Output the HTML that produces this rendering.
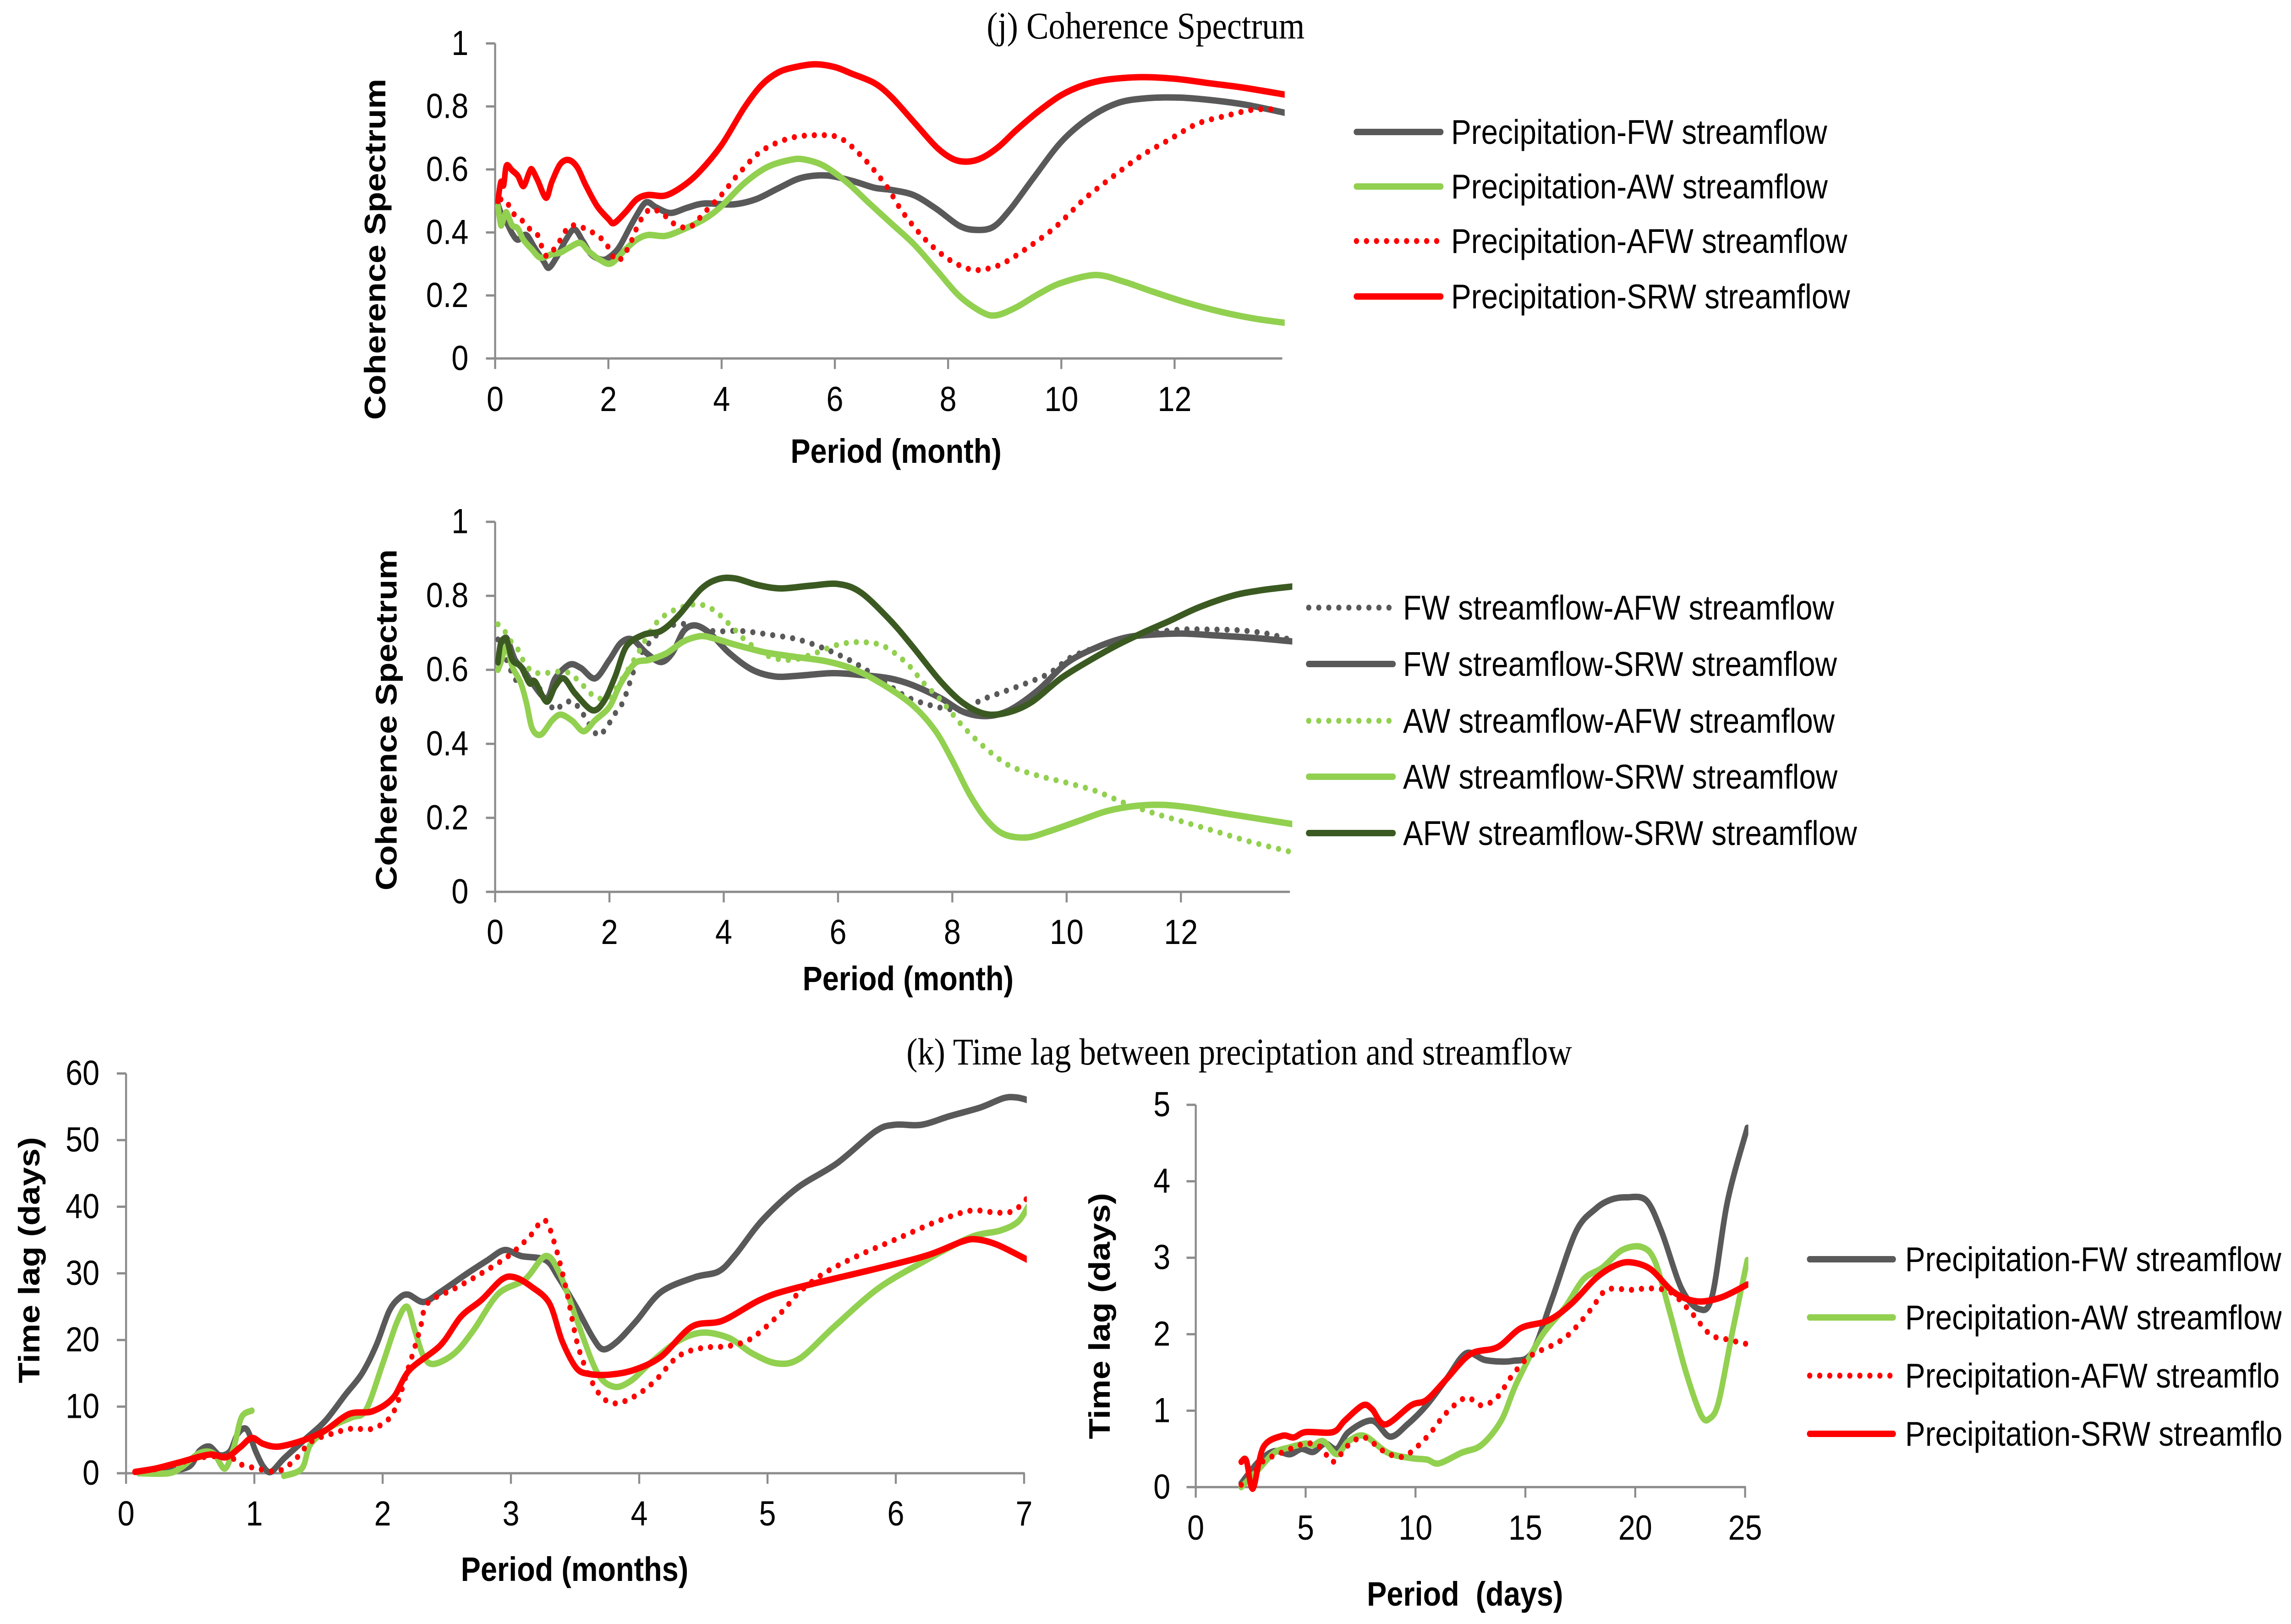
<!DOCTYPE html>
<html lang="en">
<head>
<meta charset="utf-8">
<title>Coherence Spectrum and Time Lag</title>
<style>
html,body{margin:0;padding:0;background:#fff;width:100%;height:100%;overflow:hidden;}
svg#figure{display:block;width:100vw;height:100vh;}
.tick{font-family:"Liberation Sans",sans-serif;font-size:76px;fill:#000;}
.axt{font-family:"Liberation Sans",sans-serif;font-size:74px;font-weight:bold;fill:#000;}
.leg{font-family:"Liberation Sans",sans-serif;font-size:75px;fill:#000;}
.legk{width:938px;height:100px;line-height:100px;overflow:hidden;white-space:nowrap;font-family:"Liberation Sans",sans-serif;font-size:75px;color:#000;}
.ttl{font-family:"Liberation Serif",serif;font-size:83px;fill:#000;}
.s{fill:none;stroke-width:14;stroke-linecap:round;stroke-linejoin:round;}
.d{fill:none;stroke-width:13;stroke-linecap:round;stroke-linejoin:round;stroke-dasharray:0 25;}
</style>
</head>
<body>
<svg id="figure" xmlns="http://www.w3.org/2000/svg" viewBox="0 0 5712 3544" preserveAspectRatio="none">
<defs>
<clipPath id="clip-j"><rect x="1200" y="0" width="2003" height="1000"/></clipPath>
<clipPath id="clip-j2"><rect x="1200" y="1100" width="2022" height="1000"/></clipPath>
<clipPath id="clip-k1"><rect x="280" y="2300" width="2280" height="1000"/></clipPath>
<clipPath id="clip-k2"><rect x="2950" y="2300" width="1409" height="1000"/></clipPath>
</defs>
<rect x="0" y="0" width="5712" height="3544" fill="#fff"/>

<text class="ttl" x="2460" y="84">(j) Coherence Spectrum</text>
<text class="ttl" x="2260" y="2323">(k) Time lag between preciptation and streamflow</text>

<text class="axt" x="1971" y="1010">Period (month)</text>
<text class="axt" x="2001" y="2161">Period (month)</text>
<text class="axt" x="1149" y="3450">Period (months)</text>
<text class="axt" x="3408" y="3504" xml:space="preserve">Period  (days)</text>

<text class="axt" text-anchor="middle" transform="translate(961 544) rotate(-90)">Coherence Spectrum</text>
<text class="axt" text-anchor="middle" transform="translate(989 1571) rotate(-90)">Coherence Spectrum</text>
<text class="axt" text-anchor="middle" transform="translate(98 2750) rotate(-90)">Time lag (days)</text>
<text class="axt" text-anchor="middle" transform="translate(2767 2872) rotate(-90)">Time lag (days)</text>

<g id="panel-j-top"></g>
<g id="panel-j-bottom"></g>
<g id="panel-k-left"></g>
<g id="panel-k-right"></g>

<g>
  <g><line x1="3382" x2="3592" y1="288" y2="288" class="s" stroke="#595959"/><text class="leg" x="3618" y="314">Precipitation-FW streamflow</text></g>
  <g><line x1="3382" x2="3592" y1="407" y2="407" class="s" stroke="#92D050"/><text class="leg" x="3618" y="433">Precipitation-AW streamflow</text></g>
  <g><line x1="3382" x2="3592" y1="526" y2="526" class="d" stroke="#FF0000"/><text class="leg" x="3618" y="552">Precipitation-AFW streamflow</text></g>
  <g><line x1="3382" x2="3592" y1="647" y2="647" class="s" stroke="#FF0000"/><text class="leg" x="3618" y="673">Precipitation-SRW streamflow</text></g>
</g>
<g>
  <g><line x1="3263" x2="3473" y1="1326" y2="1326" class="d" stroke="#595959"/><text class="leg" x="3498" y="1352">FW streamflow-AFW streamflow</text></g>
  <g><line x1="3263" x2="3473" y1="1449" y2="1449" class="s" stroke="#595959"/><text class="leg" x="3498" y="1475">FW streamflow-SRW streamflow</text></g>
  <g><line x1="3263" x2="3473" y1="1573" y2="1573" class="d" stroke="#92D050"/><text class="leg" x="3498" y="1599">AW streamflow-AFW streamflow</text></g>
  <g><line x1="3263" x2="3473" y1="1695" y2="1695" class="s" stroke="#92D050"/><text class="leg" x="3498" y="1721">AW streamflow-SRW streamflow</text></g>
  <g><line x1="3263" x2="3473" y1="1818" y2="1818" class="s" stroke="#3B5A22"/><text class="leg" x="3498" y="1844">AFW streamflow-SRW streamflow</text></g>
</g>
<g>
  <line x1="4512" x2="4720" y1="2748" y2="2748" class="s" stroke="#595959"/>
  <line x1="4512" x2="4720" y1="2875" y2="2875" class="s" stroke="#92D050"/>
  <line x1="4512" x2="4720" y1="3002" y2="3002" class="d" stroke="#FF0000"/>
  <line x1="4512" x2="4720" y1="3129" y2="3129" class="s" stroke="#FF0000"/>
  <foreignObject x="4750" y="2698" width="938" height="100"><div class="legk">Precipitation-FW streamflow</div></foreignObject>
  <foreignObject x="4750" y="2825" width="938" height="100"><div class="legk">Precipitation-AW streamflow</div></foreignObject>
  <foreignObject x="4750" y="2952" width="938" height="100"><div class="legk">Precipitation-AFW streamflo<span style="display:none">w</span></div></foreignObject>
  <foreignObject x="4750" y="3079" width="938" height="100"><div class="legk">Precipitation-SRW streamflo<span style="display:none">w</span></div></foreignObject>
</g>
</svg>
<script>
// ---------- Panel (j) top: precipitation coherence ----------
const jTopXTicks = [0,2,4,6,8,10,12];
const jTopXLabels = ['0','2','4','6','8','10','12'];
const jTopYTicks = [0,0.2,0.4,0.6,0.8,1];
const jTopYLabels = ['0','0.2','0.4','0.6','0.8','1'];

const jTopFwX = [0.05,0.1,0.2,0.3,0.4,0.55,0.7,0.85,0.95,1.1,1.25,1.4,1.55,1.7,1.9,2.05,2.2,2.4,2.6,2.7,2.85,3.1,3.4,3.7,4.2,4.6,5,5.4,5.85,6.3,6.7,7,7.4,7.8,8.2,8.5,8.8,9.1,9.5,10,10.5,11,11.5,12.1,12.7,13.3,14];
const jTopFwY = [0.49,0.464,0.433,0.397,0.377,0.392,0.351,0.31,0.288,0.326,0.377,0.41,0.372,0.33,0.313,0.326,0.356,0.423,0.484,0.496,0.479,0.462,0.479,0.492,0.489,0.505,0.54,0.573,0.581,0.564,0.542,0.535,0.518,0.474,0.421,0.408,0.418,0.474,0.571,0.688,0.765,0.811,0.826,0.828,0.819,0.804,0.778];

const jTopAwX = [0.05,0.1,0.15,0.2,0.3,0.4,0.5,0.65,0.8,1,1.15,1.3,1.5,1.65,1.85,2.05,2.3,2.5,2.7,3,3.3,3.7,4,4.4,4.8,5.2,5.45,5.8,6.2,6.6,7,7.4,7.8,8.2,8.6,8.85,9.2,9.6,10,10.6,11.1,11.6,12.2,12.8,13.4,14];
const jTopAwY = [0.484,0.423,0.443,0.464,0.423,0.413,0.377,0.346,0.32,0.331,0.336,0.351,0.367,0.341,0.313,0.302,0.346,0.377,0.392,0.389,0.408,0.443,0.484,0.556,0.607,0.63,0.632,0.612,0.561,0.494,0.428,0.362,0.28,0.198,0.147,0.137,0.162,0.205,0.24,0.265,0.244,0.213,0.178,0.149,0.127,0.112];

const jTopAfwX = [0.1,0.2,0.3,0.45,0.6,0.75,0.9,1.1,1.3,1.5,1.75,1.95,2.15,2.35,2.55,2.75,3,3.2,3.45,3.7,4,4.3,4.7,5.2,5.7,6.1,6.5,6.9,7.2,7.6,8,8.35,8.6,8.95,9.4,9.9,10.4,10.9,11.4,11.9,12.4,12.9,13.4,13.85];
const jTopAfwY = [0.505,0.5,0.464,0.443,0.413,0.392,0.326,0.362,0.418,0.418,0.397,0.367,0.31,0.351,0.433,0.474,0.453,0.423,0.418,0.464,0.52,0.586,0.658,0.699,0.709,0.699,0.637,0.55,0.464,0.377,0.316,0.285,0.282,0.3,0.351,0.418,0.505,0.576,0.642,0.694,0.745,0.77,0.79,0.79];

const jTopSrwX = [0.05,0.1,0.15,0.2,0.3,0.4,0.5,0.6,0.65,0.75,0.9,1,1.15,1.3,1.45,1.6,1.8,2,2.1,2.3,2.5,2.7,3,3.3,3.6,4,4.4,4.7,5,5.3,5.65,6,6.3,6.7,7,7.4,7.8,8.1,8.35,8.6,8.9,9.2,9.6,10,10.4,10.8,11.4,12,12.6,13.2,14];
const jTopSrwY = [0.5,0.56,0.55,0.612,0.597,0.58,0.547,0.59,0.6,0.566,0.51,0.56,0.617,0.63,0.607,0.55,0.484,0.443,0.43,0.464,0.505,0.519,0.517,0.545,0.591,0.678,0.796,0.867,0.908,0.925,0.934,0.925,0.904,0.874,0.83,0.75,0.67,0.632,0.625,0.637,0.673,0.724,0.785,0.836,0.868,0.885,0.893,0.888,0.874,0.86,0.836];

// ---------- Panel (j) bottom: streamflow coherence ----------
const jBotXTicks = [0,2,4,6,8,10,12];
const jBotXLabels = ['0','2','4','6','8','10','12'];
const jBotYTicks = [0,0.2,0.4,0.6,0.8,1];
const jBotYLabels = ['0','0.2','0.4','0.6','0.8','1'];

const jBotFwAfwX = [0.05,0.15,0.25,0.35,0.55,0.75,0.95,1.05,1.2,1.35,1.5,1.6,1.8,1.95,2.1,2.25,2.5,2.75,3.05,3.4,3.8,4.3,4.8,5.3,5.8,6.3,6.8,7.2,7.6,7.9,8.2,8.5,8.9,9.3,9.7,10.1,10.6,11,11.5,12,12.5,13,13.5,13.95];
const jBotFwAfwY = [0.682,0.645,0.609,0.573,0.586,0.555,0.509,0.491,0.509,0.514,0.491,0.464,0.423,0.445,0.482,0.518,0.627,0.682,0.718,0.723,0.705,0.705,0.695,0.682,0.655,0.618,0.568,0.527,0.505,0.495,0.491,0.518,0.541,0.564,0.591,0.636,0.664,0.686,0.7,0.709,0.709,0.707,0.698,0.68];

const jBotFwSrwX = [0.05,0.1,0.2,0.35,0.5,0.65,0.9,1.05,1.3,1.5,1.75,2,2.2,2.4,2.65,2.9,3.1,3.3,3.5,3.75,4.1,4.5,4.9,5.3,5.9,6.4,6.9,7.3,7.8,8.2,8.6,9,9.5,10,10.5,11,11.4,12,12.6,13.3,14];
const jBotFwSrwY = [0.627,0.664,0.686,0.627,0.6,0.564,0.523,0.577,0.614,0.605,0.577,0.627,0.673,0.682,0.645,0.621,0.645,0.705,0.72,0.7,0.645,0.6,0.582,0.584,0.591,0.586,0.577,0.559,0.523,0.486,0.475,0.491,0.545,0.618,0.659,0.686,0.694,0.698,0.693,0.686,0.676];

const jBotAwAfwX = [0.05,0.15,0.25,0.4,0.5,0.65,0.85,1.1,1.3,1.5,1.75,2,2.25,2.5,2.8,3.1,3.5,3.8,4.1,4.4,4.8,5.2,5.6,6,6.4,6.8,7.2,7.5,7.8,8.2,8.6,9,9.5,10,10.5,11,11.5,12,12.6,13.2,13.95];
const jBotAwAfwY = [0.723,0.709,0.682,0.655,0.623,0.595,0.591,0.595,0.591,0.564,0.527,0.527,0.582,0.645,0.723,0.759,0.777,0.764,0.723,0.677,0.636,0.627,0.645,0.668,0.675,0.664,0.618,0.564,0.518,0.445,0.386,0.341,0.314,0.295,0.273,0.241,0.214,0.191,0.164,0.136,0.107];

const jBotAwSrwX = [0.05,0.1,0.2,0.3,0.45,0.55,0.65,0.8,1,1.15,1.35,1.55,1.75,2,2.2,2.45,2.7,3,3.3,3.6,3.85,4.2,4.7,5.2,5.8,6.3,6.8,7.3,7.7,8,8.3,8.6,8.9,9.3,9.7,10.2,10.7,11.2,11.7,12.2,12.9,14];
const jBotAwSrwY = [0.6,0.62,0.664,0.609,0.564,0.509,0.441,0.425,0.464,0.479,0.462,0.434,0.464,0.5,0.564,0.618,0.627,0.645,0.677,0.691,0.684,0.668,0.648,0.636,0.623,0.6,0.559,0.505,0.436,0.355,0.264,0.195,0.156,0.147,0.164,0.191,0.218,0.232,0.235,0.227,0.209,0.182];

const jBotAfwSrwX = [0.05,0.1,0.2,0.3,0.45,0.6,0.7,0.9,1.05,1.2,1.4,1.7,1.9,2.1,2.3,2.6,2.9,3.2,3.6,3.9,4.2,4.6,5,5.5,6,6.4,6.9,7.3,7.8,8.2,8.6,9,9.4,9.9,10.4,10.9,11.4,11.8,12.3,12.9,13.4,14];
const jBotAfwSrwY = [0.62,0.673,0.682,0.627,0.609,0.564,0.568,0.514,0.555,0.577,0.536,0.491,0.514,0.582,0.664,0.695,0.705,0.745,0.818,0.845,0.847,0.829,0.82,0.827,0.832,0.809,0.736,0.664,0.568,0.509,0.48,0.486,0.514,0.577,0.625,0.668,0.705,0.732,0.768,0.8,0.815,0.826];

// ---------- Panel (k) left: time lag in months ----------
const kLeftXTicks = [0,1,2,3,4,5,6,7];
const kLeftXLabels = ['0','1','2','3','4','5','6','7'];
const kLeftYTicks = [0,10,20,30,40,50,60];
const kLeftYLabels = ['0','10','20','30','40','50','60'];

const kLeftFwX = [0.1,0.28,0.49,0.57,0.65,0.73,0.81,0.87,0.94,1.01,1.07,1.13,1.23,1.39,1.55,1.71,1.84,1.95,2.05,2.13,2.2,2.32,2.45,2.66,2.82,2.95,3.08,3.27,3.37,3.51,3.64,3.72,3.83,3.98,4.17,4.43,4.62,4.75,4.96,5.23,5.54,5.84,5.99,6.2,6.42,6.66,6.84,6.94,7.03];
const kLeftFwY = [0,0.2,1,3.3,4,2.7,3.3,5.9,6.6,3.3,1,0.2,2.2,5,7.8,11.8,15,19.2,24.3,26.3,26.8,25.7,27.2,30,32,33.5,32.6,32,29.4,24.9,20.3,18.6,19.8,22.9,27.2,29.4,30.3,32.8,38,42.8,46.5,51.3,52.3,52.3,53.6,54.9,56.3,56.4,56];

const kLeftAwX = [0.1,0.33,0.44,0.57,0.68,0.77,0.84,0.9,0.98,null,1.23,1.37,1.44,1.6,1.76,1.87,2,2.11,2.19,2.25,2.32,2.4,2.56,2.71,2.9,3.11,3.27,3.38,3.51,3.67,3.8,3.93,4.09,4.3,4.49,4.7,4.88,5.07,5.25,5.52,5.86,6.21,6.58,6.81,6.95,7.03];
const kLeftAwY = [0,0,1,3,3,0.7,3.9,8.4,9.4,null,-0.4,0.7,4.4,7,8.4,9.5,16.4,22.6,25,21.5,17.5,16.4,18,21.5,26.9,29.1,32.6,30,23.2,15.2,13,13.8,16.6,19.8,21.1,20.3,18,16.5,17.2,22,27.7,31.7,35.4,36.4,37.7,40];

const kLeftAfwX = [0.07,0.25,0.6,0.81,0.87,1.0,1.18,1.31,1.44,1.6,1.76,1.92,2.08,2.21,2.29,2.35,2.56,2.77,2.98,3.14,3.26,3.34,3.43,3.53,3.67,3.8,3.96,4.12,4.3,4.49,4.7,4.88,5.1,5.25,5.44,5.7,6,6.31,6.58,6.79,6.92,7.03];
const kLeftAfwY = [0.2,0.7,2.4,2.4,1.5,0.8,0.3,1.9,4.7,5.9,6.7,6.7,9,16.4,21.5,25.5,27.7,30,32.6,35.4,38,34.5,27.7,18.6,12.4,10.5,11.5,13.8,17.5,18.8,19.1,20.3,24,27.2,30,32.6,35.1,37.7,39.4,39.1,39.4,41.4];

const kLeftSrwX = [0.07,0.23,0.41,0.65,0.78,0.89,0.98,1.07,1.19,1.39,1.55,1.74,1.92,2.08,2.21,2.45,2.61,2.77,2.93,3.03,3.16,3.3,3.4,3.51,3.61,3.77,3.96,4.17,4.41,4.65,4.94,5.2,5.89,6.26,6.52,6.63,6.79,7.03];
const kLeftSrwY = [0.2,0.7,1.6,2.8,2.4,3.9,5.3,4.4,4,5,6.4,8.9,9.3,11.3,15.5,19.2,23.5,26,29.1,29.4,28,25.5,19.8,15.8,14.9,14.8,15.5,17.5,22,22.9,26,27.7,30.9,32.8,34.8,35.1,34.3,32];

// ---------- Panel (k) right: time lag in days ----------
const kRightXTicks = [0,5,10,15,20,25];
const kRightXLabels = ['0','5','10','15','20','25'];
const kRightYTicks = [0,1,2,3,4,5];
const kRightYLabels = ['0','1','2','3','4','5'];

const kRightFwX = [2.07,2.85,3.57,4.28,4.81,5.35,5.88,6.42,6.95,8.02,8.84,9.63,10.5,11.4,12.3,13.2,14.4,15.3,16.2,17.3,18.2,18.9,19.6,20.5,21.2,22.1,22.9,23.5,24.2,25.1];
const kRightFwY = [0.05,0.33,0.47,0.43,0.5,0.46,0.57,0.5,0.72,0.87,0.66,0.82,1.07,1.41,1.75,1.66,1.65,1.76,2.45,3.34,3.64,3.76,3.79,3.75,3.34,2.6,2.33,2.5,3.74,4.7];

const kRightAwX = [2.07,2.85,3.57,4.28,5,5.35,5.81,6.42,6.95,7.67,8.74,9.8,10.52,11.06,12.1,13,13.9,14.6,15.7,16.8,17.65,18.5,19.4,20.3,20.9,21.6,22.3,23,23.4,23.8,24.4,25.1];
const kRightAwY = [0,0.23,0.45,0.52,0.57,0.55,0.6,0.43,0.6,0.67,0.45,0.38,0.36,0.31,0.45,0.55,0.87,1.36,1.96,2.35,2.72,2.87,3.1,3.14,2.95,2.26,1.51,0.94,0.9,1.12,2,2.97];

const kRightAfwX = [2.07,2.5,3.03,3.9,5,5.7,6.24,6.95,7.67,8.56,9.45,10.5,11.4,12.3,13,13.7,14.4,15.2,16.4,17.1,18,18.7,19.8,20.7,21.6,22.5,23.4,24.2,25.1];
const kRightAfwY = [0.03,0.13,0.33,0.45,0.57,0.52,0.33,0.55,0.65,0.47,0.4,0.65,0.97,1.17,1.07,1.17,1.46,1.71,1.88,2.03,2.33,2.58,2.58,2.6,2.55,2.3,2,1.93,1.87];

const kRightSrwX = [2.07,2.3,2.6,3.07,3.92,4.46,5,6.24,6.78,7.6,8.02,8.63,9.8,10.5,11.4,12.5,13.73,14.8,16.05,17.1,18.2,19.1,19.8,20.7,21.75,22.8,23.9,25.1];
const kRightSrwY = [0.33,0.35,-0.02,0.52,0.67,0.65,0.72,0.72,0.87,1.07,1.02,0.82,1.07,1.14,1.41,1.74,1.83,2.08,2.18,2.4,2.73,2.9,2.94,2.85,2.55,2.43,2.48,2.65];

// ---------- Drawing ----------
const SVGNS = 'http://www.w3.org/2000/svg';
const AXIS_COLOR = '#8C8C8C';

function linearScale(d0, d1, r0, r1) {
  return function (v) { return r0 + (v - d0) * (r1 - r0) / (d1 - d0); };
}

function smoothPath(points) {
  let d = 'M' + points[0][0].toFixed(1) + ' ' + points[0][1].toFixed(1);
  const k = 0.16;
  for (let i = 0; i < points.length - 1; i++) {
    const p0 = points[Math.max(0, i - 1)];
    const p1 = points[i];
    const p2 = points[i + 1];
    const p3 = points[Math.min(points.length - 1, i + 2)];
    const c1x = p1[0] + (p2[0] - p0[0]) * k;
    const c1y = p1[1] + (p2[1] - p0[1]) * k;
    const c2x = p2[0] - (p3[0] - p1[0]) * k;
    const c2y = p2[1] - (p3[1] - p1[1]) * k;
    d += 'C' + c1x.toFixed(1) + ' ' + c1y.toFixed(1) + ' ' + c2x.toFixed(1) + ' ' + c2y.toFixed(1) + ' ' + p2[0].toFixed(1) + ' ' + p2[1].toFixed(1);
  }
  return d;
}

function axisLine(parent, x1, y1, x2, y2, name) {
  const el = document.createElementNS(SVGNS, 'line');
  el.setAttribute('x1', x1);
  el.setAttribute('y1', y1);
  el.setAttribute('x2', x2);
  el.setAttribute('y2', y2);
  el.setAttribute('stroke', AXIS_COLOR);
  el.setAttribute('stroke-width', 5);
  
  
  parent.appendChild(el);
}

function tickText(parent, x, y, anchor, label, name) {
  const el = document.createElementNS(SVGNS, 'text');
  el.setAttribute('class', 'tick');
  el.setAttribute('x', x);
  el.setAttribute('y', y);
  el.setAttribute('text-anchor', anchor);
  
  
  el.textContent = label;
  parent.appendChild(el);
}

function drawAxes(parent, cfg) {
  const x = cfg.x, y = cfg.y;
  axisLine(parent, x(0), y(cfg.yMax), x(0), y(0) + 23, 'y-axis-line');
  axisLine(parent, x(0) - 23, y(0), cfg.axisEnd, y(0), 'x-axis-line');
  cfg.xTicks.forEach(function (v, i) {
    if (v !== 0) axisLine(parent, x(v), y(0), x(v), y(0) + 23, 'x-tick');
    tickText(parent, x(v), cfg.xLabelY, 'middle', cfg.xLabels[i], 'x-tick-label');
  });
  cfg.yTicks.forEach(function (v, i) {
    if (v !== 0) axisLine(parent, x(0) - 23, y(v), x(0), y(v), 'y-tick');
    tickText(parent, cfg.yLabelX, y(v) + 25, 'end', cfg.yLabels[i], 'y-tick-label');
  });
}

function drawSeries(parent, cfg, xs, ys, color, dotted, name) {
  let run = [];
  const runs = [run];
  xs.forEach(function (v, i) {
    if (v === null || ys[i] === null) {
      run = [];
      runs.push(run);
    } else {
      run.push([cfg.x(v), cfg.y(ys[i])]);
    }
  });
  runs.forEach(function (pts) {
    const el = document.createElementNS(SVGNS, 'path');
    el.setAttribute('d', smoothPath(pts));
    el.setAttribute('class', dotted ? 'd' : 's');
    el.setAttribute('stroke', color);
    
    
    parent.appendChild(el);
  });
}

function clipGroup(parent, clipId) {
  const g = document.createElementNS(SVGNS, 'g');
  g.setAttribute('clip-path', 'url(#' + clipId + ')');
  
  
  parent.appendChild(g);
  return g;
}

const GRAY = '#595959', GREEN = '#92D050', RED = '#FF0000', DARK = '#3B5A22';

// top coherence
const jTopCfg = {
  x: linearScale(0, 12, 1234.5, 2928.5), y: linearScale(0, 1, 782.3, 94.8), yMax: 1, axisEnd: 3197,
  xTicks: jTopXTicks, xLabels: jTopXLabels, yTicks: jTopYTicks, yLabels: jTopYLabels, xLabelY: 897, yLabelX: 1168
};
const jTopPanel = document.getElementById('panel-j-top');
drawAxes(jTopPanel, jTopCfg);
const jTopG = clipGroup(jTopPanel, 'clip-j');
drawSeries(jTopG, jTopCfg, jTopFwX, jTopFwY, GRAY, false, 'series-precipitation-fw');
drawSeries(jTopG, jTopCfg, jTopAwX, jTopAwY, GREEN, false, 'series-precipitation-aw');
drawSeries(jTopG, jTopCfg, jTopAfwX, jTopAfwY, RED, true, 'series-precipitation-afw');
drawSeries(jTopG, jTopCfg, jTopSrwX, jTopSrwY, RED, false, 'series-precipitation-srw');

// bottom coherence
const jBotCfg = {
  x: linearScale(0, 12, 1234.5, 2944.3), y: linearScale(0, 1, 1946.3, 1138.7), yMax: 1, axisEnd: 3216,
  xTicks: jBotXTicks, xLabels: jBotXLabels, yTicks: jBotYTicks, yLabels: jBotYLabels, xLabelY: 2060, yLabelX: 1168
};
const jBotPanel = document.getElementById('panel-j-bottom');
drawAxes(jBotPanel, jBotCfg);
const jBotG = clipGroup(jBotPanel, 'clip-j2');
drawSeries(jBotG, jBotCfg, jBotFwAfwX, jBotFwAfwY, GRAY, true, 'series-fw-afw');
drawSeries(jBotG, jBotCfg, jBotFwSrwX, jBotFwSrwY, GRAY, false, 'series-fw-srw');
drawSeries(jBotG, jBotCfg, jBotAwAfwX, jBotAwAfwY, GREEN, true, 'series-aw-afw');
drawSeries(jBotG, jBotCfg, jBotAwSrwX, jBotAwSrwY, GREEN, false, 'series-aw-srw');
drawSeries(jBotG, jBotCfg, jBotAfwSrwX, jBotAfwSrwY, DARK, false, 'series-afw-srw');

// time lag months
const kLeftCfg = {
  x: linearScale(0, 7, 314.3, 2553.3), y: linearScale(0, 60, 3215, 2342.6), yMax: 60, axisEnd: 2555,
  xTicks: kLeftXTicks, xLabels: kLeftXLabels, yTicks: kLeftYTicks, yLabels: kLeftYLabels, xLabelY: 3329, yLabelX: 248
};
const kLeftPanel = document.getElementById('panel-k-left');
drawAxes(kLeftPanel, kLeftCfg);
const kLeftG = clipGroup(kLeftPanel, 'clip-k1');
drawSeries(kLeftG, kLeftCfg, kLeftFwX, kLeftFwY, GRAY, false, 'series-lag-months-fw');
drawSeries(kLeftG, kLeftCfg, kLeftAwX, kLeftAwY, GREEN, false, 'series-lag-months-aw');
drawSeries(kLeftG, kLeftCfg, kLeftAfwX, kLeftAfwY, RED, true, 'series-lag-months-afw');
drawSeries(kLeftG, kLeftCfg, kLeftSrwX, kLeftSrwY, RED, false, 'series-lag-months-srw');

// time lag days
const kRightCfg = {
  x: linearScale(0, 25, 2981.3, 4351), y: linearScale(0, 5, 3245.3, 2411), yMax: 5, axisEnd: 4353,
  xTicks: kRightXTicks, xLabels: kRightXLabels, yTicks: kRightYTicks, yLabels: kRightYLabels, xLabelY: 3360, yLabelX: 2918
};
const kRightPanel = document.getElementById('panel-k-right');
drawAxes(kRightPanel, kRightCfg);
const kRightG = clipGroup(kRightPanel, 'clip-k2');
drawSeries(kRightG, kRightCfg, kRightFwX, kRightFwY, GRAY, false, 'series-lag-days-fw');
drawSeries(kRightG, kRightCfg, kRightAwX, kRightAwY, GREEN, false, 'series-lag-days-aw');
drawSeries(kRightG, kRightCfg, kRightAfwX, kRightAfwY, RED, true, 'series-lag-days-afw');
drawSeries(kRightG, kRightCfg, kRightSrwX, kRightSrwY, RED, false, 'series-lag-days-srw');
</script>
</body>
</html>
